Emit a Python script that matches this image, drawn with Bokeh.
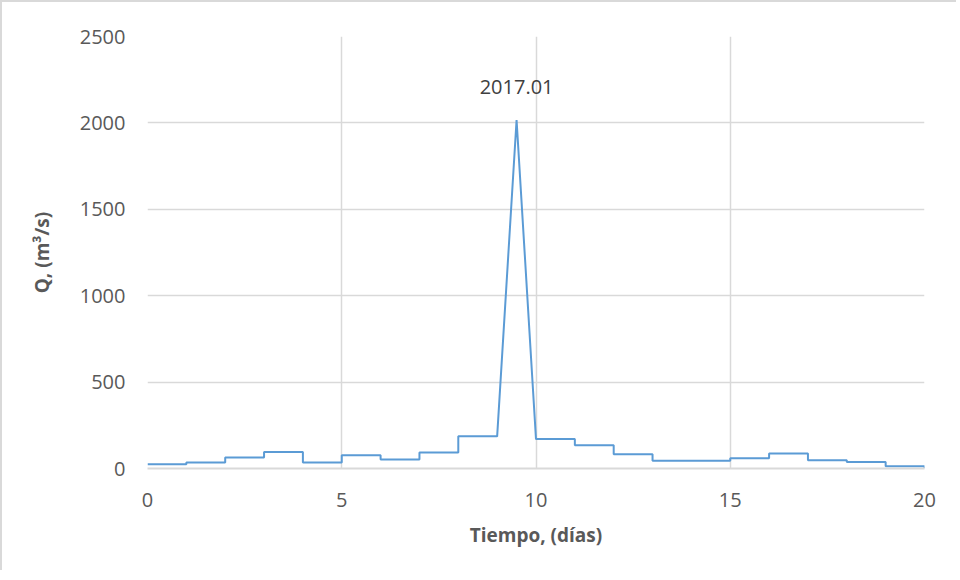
from bokeh.plotting import figure
from bokeh.models import Range1d, FixedTicker, Label, ColumnDataSource
from bokeh.embed import file_html
from bokeh.resources import INLINE

# Hydrograph points (time in days, flow in m3/s)
tiempo = [0, 1, 1, 2, 2, 3, 3, 4, 4, 5, 5, 6, 6, 7, 7, 8, 8, 9, 9.5, 10,
          11, 11, 12, 12, 13, 13, 15, 15, 16, 16, 17, 17, 18, 18, 19, 19, 20, 20]
caudal = [25, 25, 35, 35, 64, 64, 95, 95, 35, 35, 76, 76, 52, 52, 93, 93, 186, 186, 2017.01, 170,
          170, 134, 134, 83, 83, 45, 45, 60, 60, 87, 87, 48, 48, 37, 37, 13, 13, 0]
peak_t = 9.5
peak_q = 2017.01
x_ticks = [0, 5, 10, 15, 20]
y_ticks = [0, 500, 1000, 1500, 2000, 2500]

FONT = "Open Sans"
GRAY = "#595959"

p = figure(width=956, height=570, output_backend="svg", toolbar_location=None,
           x_range=Range1d(0, 20), y_range=Range1d(0, 2500),
           min_border_left=145, min_border_right=34, min_border_top=34, min_border_bottom=104)
p.styles = {"border-left": "2px solid #d9d9d9", "border-top": "2px solid #d9d9d9"}
p.outline_line_color = None
p.background_fill_color = "white"

src = ColumnDataSource(dict(t=tiempo, q=caudal))
p.line("t", "q", source=src, line_color="#5b9bd5", line_width=2)

p.add_layout(Label(x=peak_t, y=peak_q, text=f"{peak_q:.2f}", text_align="center",
                   text_baseline="bottom", y_offset=26, text_font=FONT,
                   text_font_size="20px", text_color="#404040"))

for ax in (p.xaxis, p.yaxis):
    ax.major_tick_line_color = None
    ax.minor_tick_line_color = None
    ax.major_label_text_font = FONT
    ax.major_label_text_font_size = "20px"
    ax.major_label_text_color = GRAY
    ax.axis_label_text_font = FONT
    ax.axis_label_text_font_style = "bold"
    ax.axis_label_text_font_size = "19px"
    ax.axis_label_text_color = GRAY

p.xaxis.ticker = FixedTicker(ticks=x_ticks)
p.yaxis.ticker = FixedTicker(ticks=y_ticks)
p.xaxis.axis_line_color = "#d9d9d9"
p.xaxis.axis_line_width = 2
p.yaxis.axis_line_color = None
p.xaxis.major_label_standoff = 18
p.yaxis.major_label_standoff = 16
p.xaxis.axis_label = "Tiempo, (días)"
p.yaxis.axis_label = "Q, (m³/s)"
p.xaxis.axis_label_standoff = 12
p.yaxis.axis_label_standoff = 22

p.xgrid.ticker = FixedTicker(ticks=x_ticks)
p.ygrid.ticker = FixedTicker(ticks=y_ticks)
p.xgrid.grid_line_color = "#d9d9d9"
p.ygrid.grid_line_color = "#d9d9d9"
p.xgrid.grid_line_width = 1.5
p.ygrid.grid_line_width = 1.5

open("out.html", "w").write(file_html(p, INLINE))
